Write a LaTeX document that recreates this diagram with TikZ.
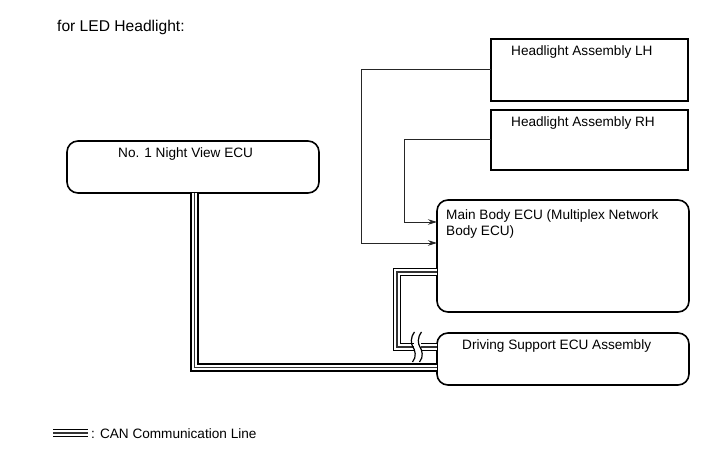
\documentclass[tikz,border=0pt]{standalone}
\usepackage{fontspec}
\setmainfont{Liberation Sans}
\usetikzlibrary{arrows.meta}
\begin{document}
\begin{tikzpicture}[x=1bp,y=-1bp,
  lbl/.style={anchor=base west, inner sep=0pt, font=\fontsize{13.6bp}{16bp}\selectfont},
  ttl/.style={anchor=base west, inner sep=0pt, font=\fontsize{15.6bp}{18bp}\selectfont},
  sqbox/.style={draw, line width=1.8bp, inner sep=0pt},
  rbox/.style={draw, line width=1.6bp, inner sep=0pt, rounded corners=11bp},
  wire/.style={line width=0.9bp, draw=black!85, -{Stealth[length=9bp,width=5.5bp]}},
  can/.style={line width=8.6bp, draw=black, line join=miter,
    postaction={draw=white, line width=5.4bp, line join=miter},
    postaction={draw=black!80, line width=1.1bp, line join=miter}},
  squig/.style={line width=1.2bp, draw=black}
]
\useasboundingbox (0,0) rectangle (724,465);

% title
\node[ttl] (title) at (57,32) {for LED Headlight:};

% boxes
\draw[sqbox] (491,39) rectangle (688,101);
\coordinate (lhW) at (491,69);
\draw[sqbox] (491,110) rectangle (688,170);
\coordinate (rhW) at (491,139);
\draw[rbox] (437,200) rectangle (689,312);
\draw[rbox] (437,333) rectangle (689,385);
\draw[rbox] (67,141) rectangle (319,193);

% labels
\node[lbl] (lh) at (511,56) {Headlight Assembly LH};
\node[lbl] (rh) at (511,126.5) {Headlight Assembly RH};
\node[lbl] (mb1) at (446,219.5) {Main Body ECU (Multiplex Network};
\node[lbl] (mb2) at (446,236) {Body ECU)};
\node[lbl] (ds) at (462,350) {Driving Support ECU Assembly};
\node[lbl] (nv) at (118,158) {No. 1 Night View ECU};

% connection points
\coordinate (mbL1) at (437,243);
\coordinate (mbL2) at (437,222);
\coordinate (mbCan) at (437,272);
\coordinate (dsCan1) at (437,347);
\coordinate (dsCan2) at (437,367.5);
\coordinate (nvB) at (194.5,193);

% signal wires
\draw[wire] (lhW) -- (361,69) -- (361,243) -- (mbL1);
\draw[wire] (rhW) -- (404,139) -- (404,222) -- (mbL2);

% CAN lines
\draw[can] (nvB) -- (194.5,367.5) -- (dsCan2);
\draw[can] (mbCan) -- (397,272) -- (397,347) -- (dsCan1);

% break marks
\fill[white] (413.5,341) rectangle (421,353);
\draw[squig] (414.5,332) .. controls (410,338) and (411,344) .. (413,347)
  .. controls (415,350) and (417,357) .. (412.5,362);
\draw[squig] (421.5,332) .. controls (417,338) and (418,344) .. (420,347)
  .. controls (422,350) and (424,357) .. (419.5,362);

% legend
\coordinate (legA) at (53,433);
\coordinate (legB) at (88,433);
\draw[can] (legA) -- (legB);
\node[lbl] (leg) at (91,438) {: CAN Communication Line};
\end{tikzpicture}
\end{document}
